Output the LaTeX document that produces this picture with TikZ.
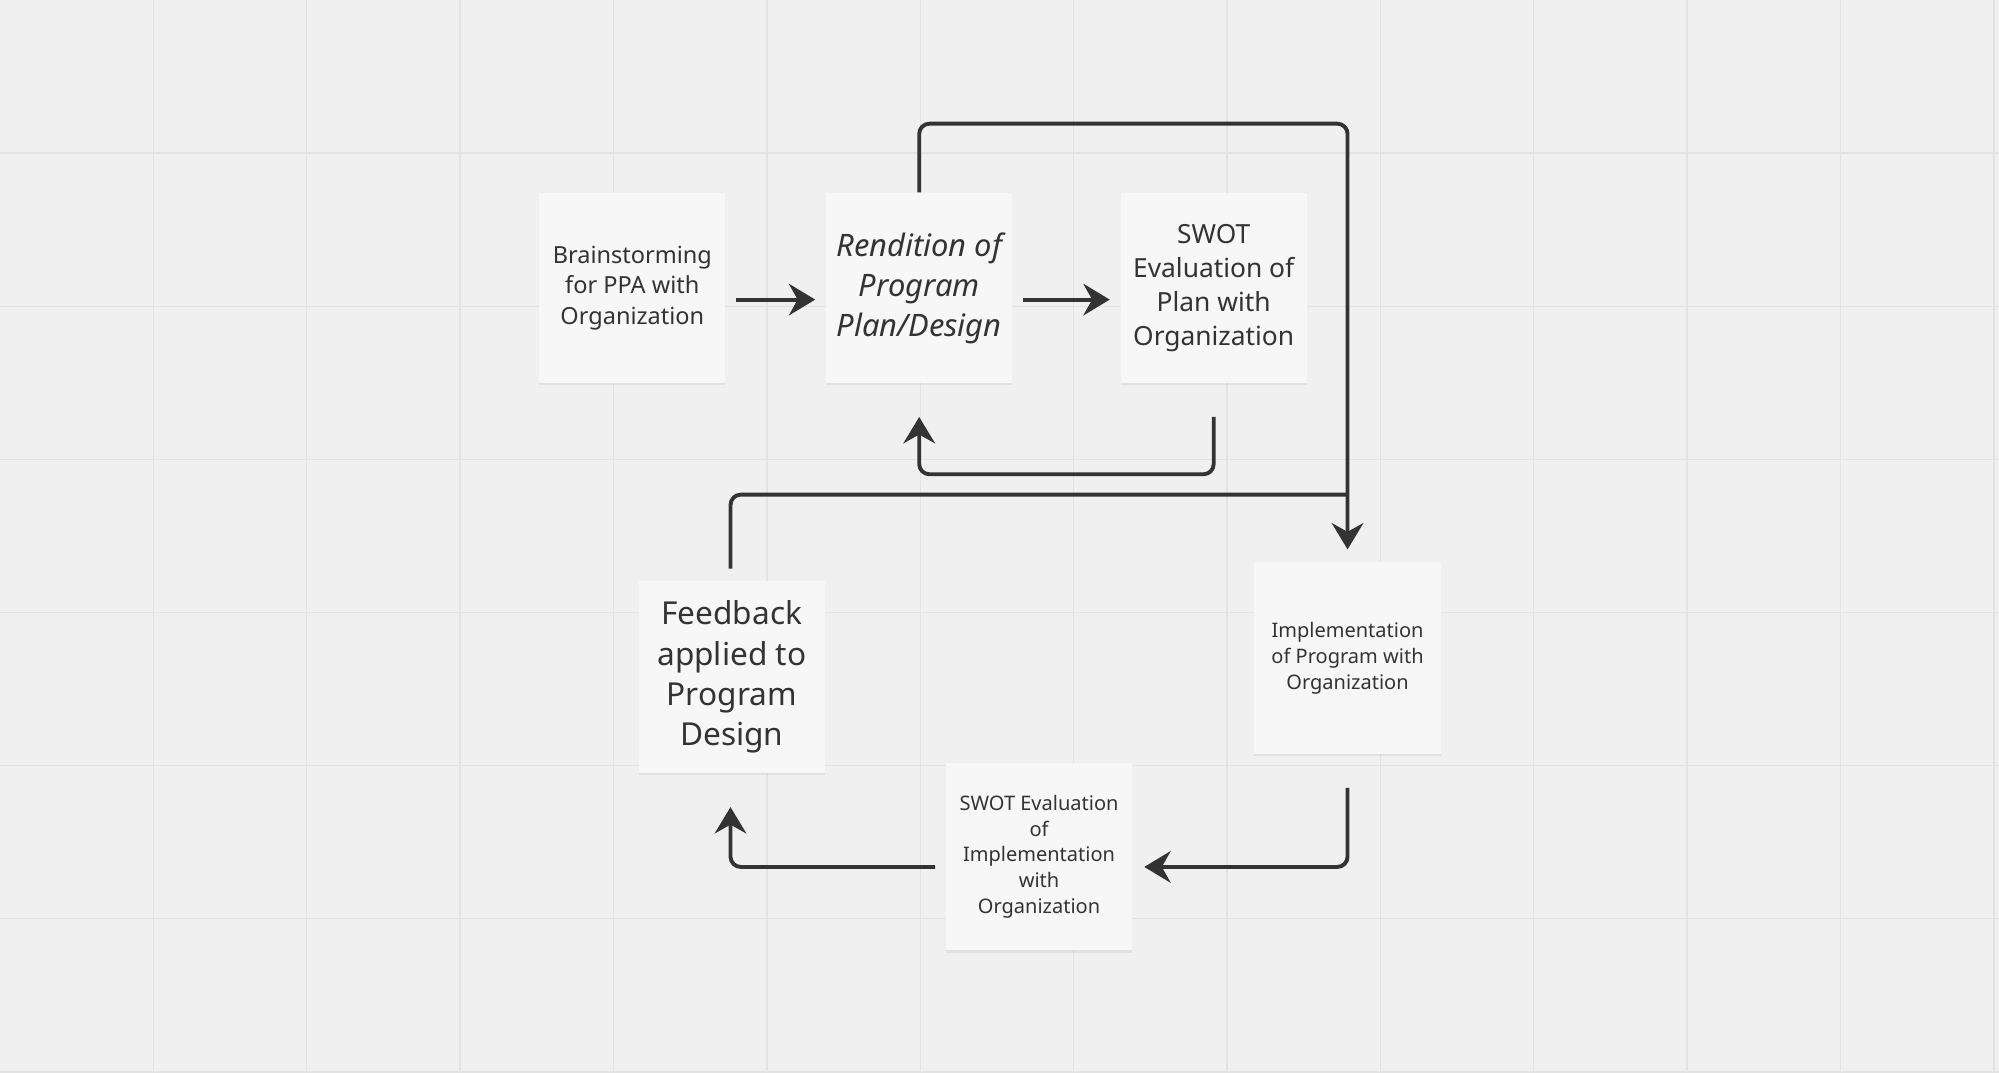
\documentclass[tikz,border=0pt]{standalone}
\usepackage{fontspec}
\setmainfont{Noto Sans}
\usetikzlibrary{arrows.meta,shadows}
\definecolor{bg}{HTML}{F0F0F0}
\definecolor{gridc}{HTML}{E3E3E3}
\definecolor{card}{HTML}{F7F7F7}
\definecolor{ink}{HTML}{333333}
\tikzset{
  card/.style={fill=card,draw=none,minimum width=146*0.012749cm,minimum height=149*0.012749cm,align=center,text=ink,inner sep=0pt,
    drop shadow={shadow xshift=0pt,shadow yshift=-0.6pt,fill=black,opacity=0.06}},
  conn/.style={draw=ink,line width=1.1pt,rounded corners=8*0.012749cm,-{Stealth[length=7.5pt,width=9pt,inset=2.5pt]}},
  plain/.style={draw=ink,line width=1.1pt,rounded corners=8*0.012749cm}
}
\begin{document}
\begin{tikzpicture}[x=0.012749cm,y=-0.012749cm]
\fill[bg] (0,0) rectangle (1568,841);
\useasboundingbox (0,0) rectangle (1568,841);
\foreach \i in {1,...,13} \draw[gridc,line width=0.4pt] (\i*120.3,0) -- (\i*120.3,841);
\foreach \j in {1,...,7} \draw[gridc,line width=0.4pt] (0,\j*120.1) -- (1568,\j*120.1);
\node[card,font=\fontsize{6.7}{8.7}\selectfont] (b) at (496,226) {Brainstorming\\for PPA with\\Organization};
\node[card,font=\fontsize{8.8}{11.4}\selectfont\itshape] (r) at (721,226) {Rendition of\\Program\\Plan/Design};
\node[card,font=\fontsize{7.5}{9.7}\selectfont] (s) at (952,226) {SWOT\\Evaluation of\\Plan with\\Organization};
\node[card,minimum height=151*0.012749cm,font=\fontsize{5.7}{7.4}\selectfont] (i) at (1057,516) {Implementation\\of Program with\\Organization};
\node[card,minimum height=147*0.012749cm,font=\fontsize{5.7}{7.35}\selectfont] (si) at (815,672) {SWOT Evaluation\\of\\Implementation\\with\\Organization};
\node[card,minimum height=151*0.012749cm,font=\fontsize{9}{11.5}\selectfont] (f) at (574,531) {Feedback\\applied to\\Program\\Design};
\coordinate (j) at (1057,388);
\draw[conn] ([xshift=8*0.012749cm]b.east |- 0,235) -- ([xshift=-8*0.012749cm]r.west |- 0,235);
\draw[conn] ([xshift=8*0.012749cm]r.east |- 0,235) -- ([xshift=-8*0.012749cm]s.west |- 0,235);
\draw[conn] (r.north) -- (721,97) -- (1057,97) -- ([yshift=9*0.012749cm]i.north);
\draw[conn] ([yshift=-26*0.012749cm]s.south) -- (952,372) -- (721,372) -- ([yshift=-26*0.012749cm]r.south);
\draw[conn] ([yshift=-26*0.012749cm]i.south) -- (1057,680) -- ([xshift=9*0.012749cm]si.east |- 0,680);
\draw[conn] ([xshift=-8*0.012749cm]si.west |- 0,680) -- (573,680) -- ([yshift=-26*0.012749cm]f.south -| 573,0);
\draw[plain] ([yshift=9*0.012749cm]f.north -| 573,0) -- (573,388) -- (j);
\end{tikzpicture}
\end{document}
